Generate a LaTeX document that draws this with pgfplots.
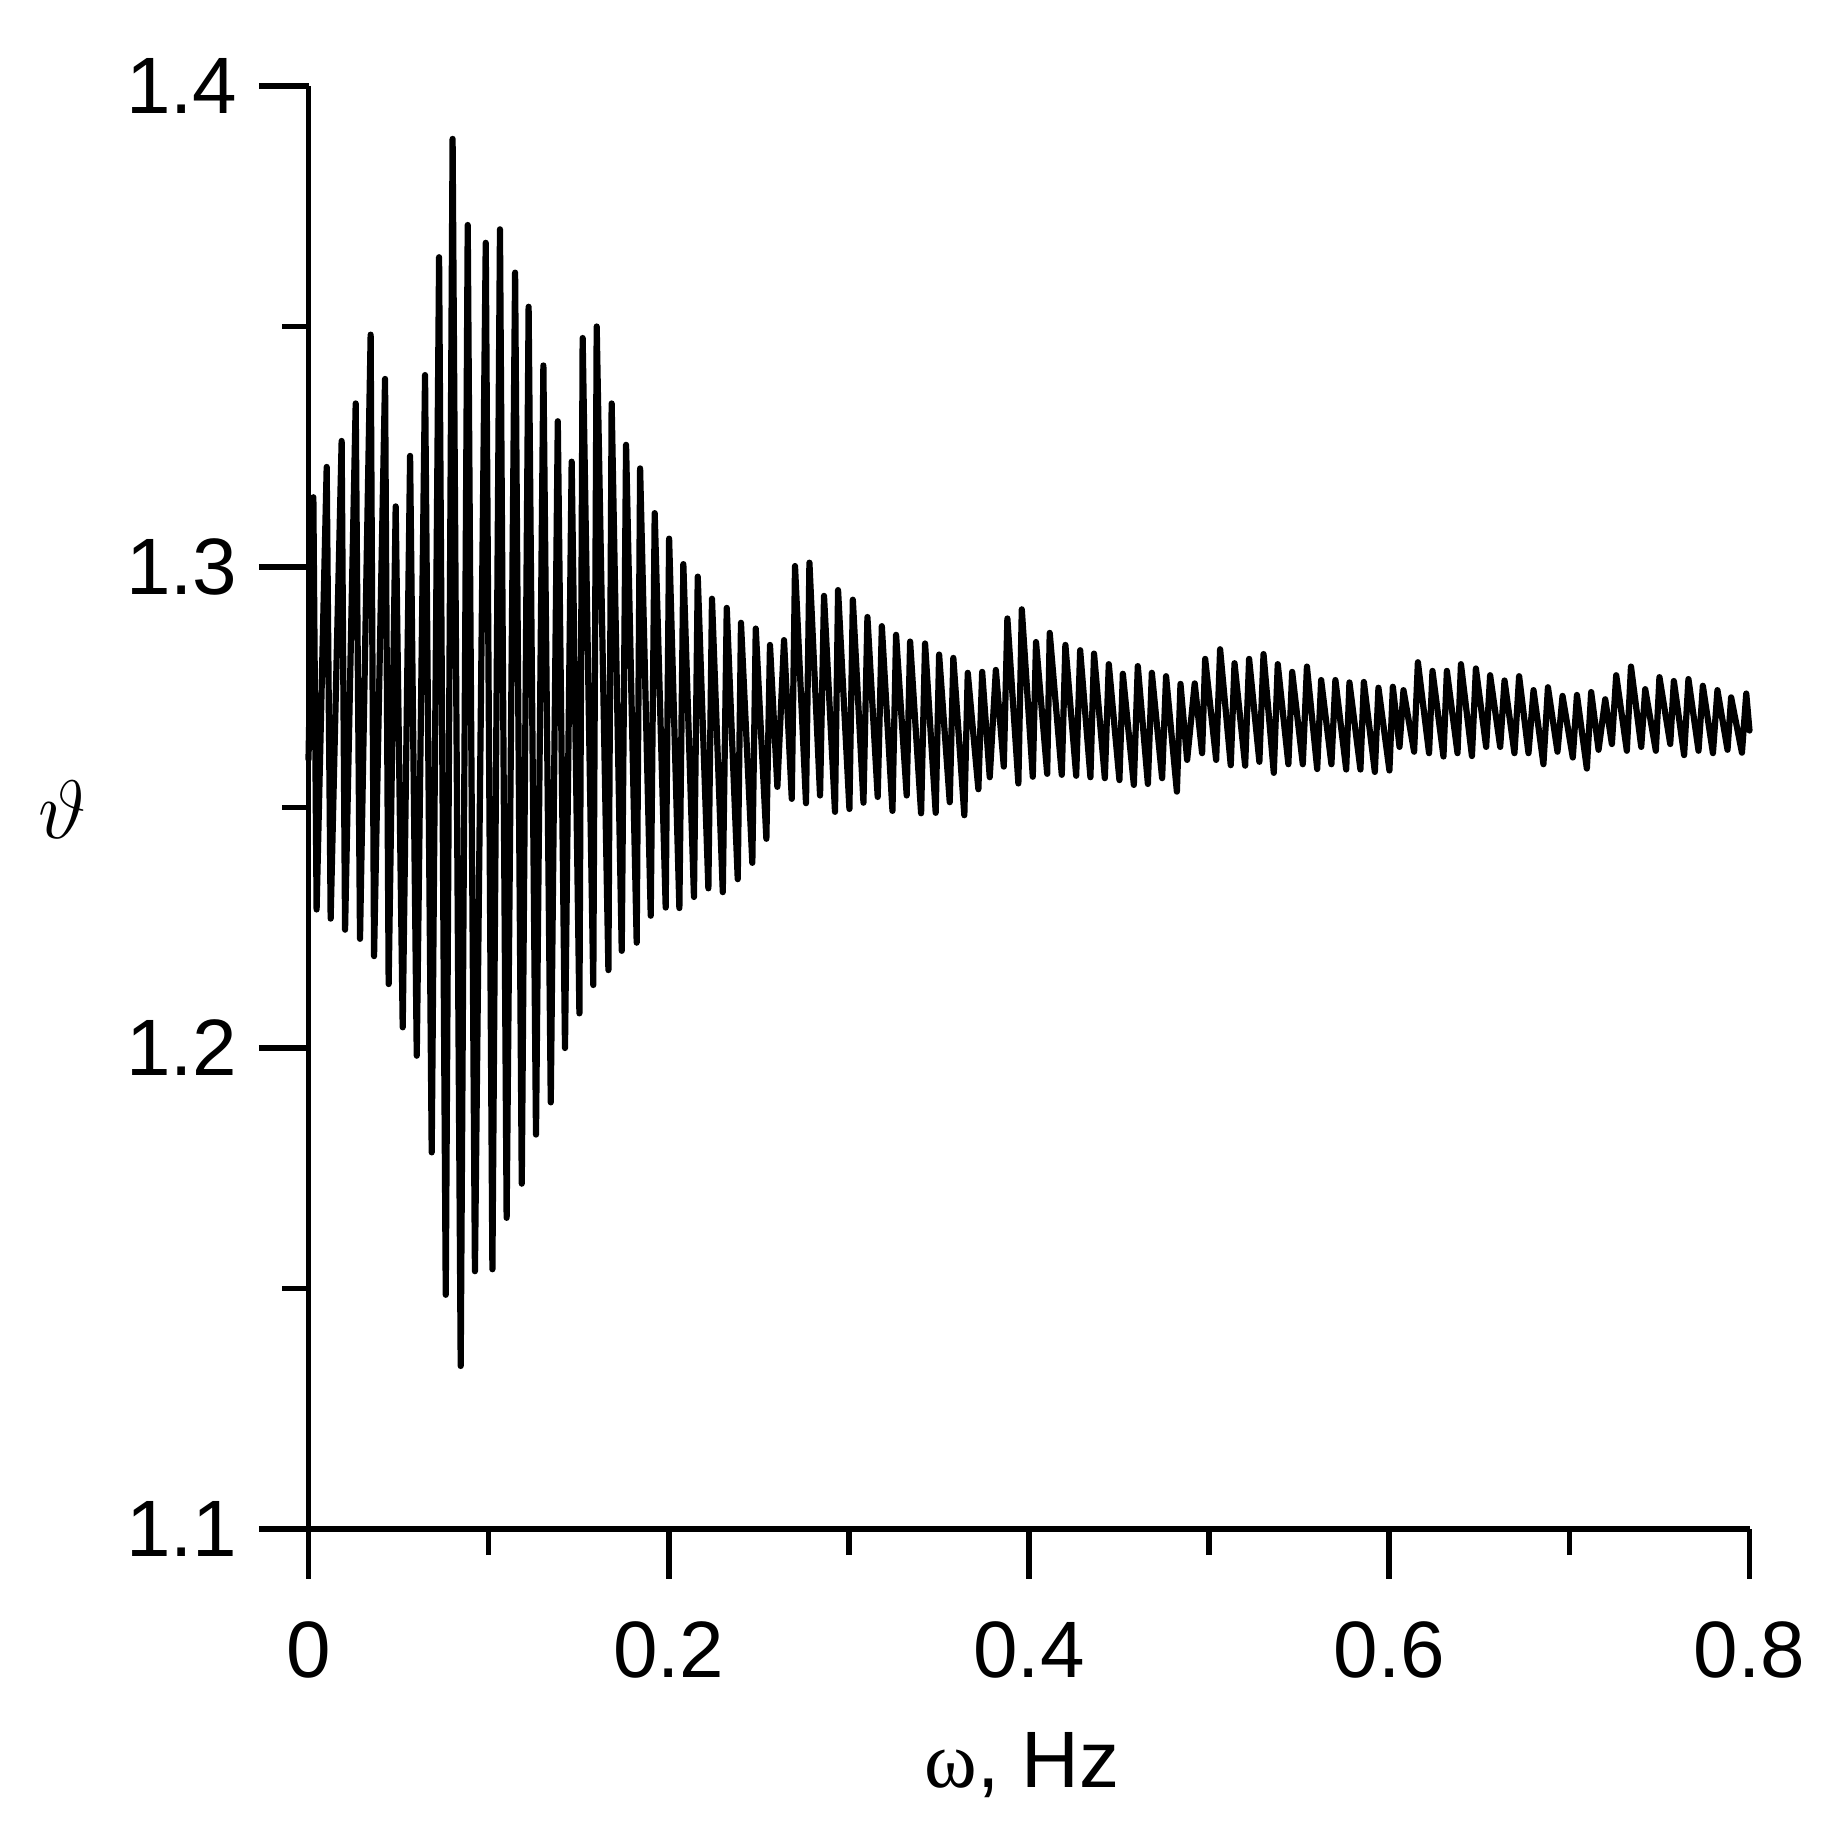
\documentclass[border=0pt]{standalone}
\usepackage{fontspec}
\setmainfont{Liberation Sans}
\newfontfamily\seriffont{Liberation Serif}
\usepackage{pgfplots}
\pgfplotsset{compat=1.18}
\begin{document}
\begin{tikzpicture}
\begin{axis}[
  scale only axis,
  width=360.25pt, height=360.75pt,
  xmin=0, xmax=0.8, ymin=1.1, ymax=1.4,
  axis lines=left,
  axis line style={-, line width=1.4pt, black},
  clip=false,
  tick align=outside,
  major tick length=12.4pt,
  minor tick length=6.5pt,
  every tick/.style={black, line width=1.4pt},
  xtick={0,0.2,0.4,0.6,0.8},
  xticklabels={0,0.2,0.4,0.6,0.8},
  minor xtick={0.1,0.3,0.5,0.7},
  ytick={1.1,1.2,1.3,1.4},
  yticklabels={1.1,1.2,1.3,1.4},
  minor ytick={1.15,1.25,1.35},
  ticklabel style={font=\fontsize{20}{24}\selectfont, inner sep=0pt},
  xticklabel style={anchor=north},
  yticklabel style={anchor=east},
  xticklabel shift=10.5pt,
  yticklabel shift=5.2pt,
  xlabel={{\seriffont ω}, Hz},
  xlabel style={font=\fontsize{20}{24}\selectfont, inner sep=0pt, anchor=base,
    at={([xshift=-1.75pt,yshift=-64.5pt]rel axis cs:0.5,0)}},
  ylabel={$\vartheta$},
  ylabel style={font=\fontsize{20}{24}\selectfont, inner sep=0pt, rotate=-90, anchor=center,
    at={([xshift=-61.4pt,yshift=-0.6pt]rel axis cs:0,0.5)}},
]
\addplot[black, line width=1.55pt, line join=round, line cap=round] coordinates {
(0.0000,1.2600)
(0.0027,1.3145) (0.0045,1.2288)
(0.0101,1.3208) (0.0123,1.2269)
(0.0184,1.3262) (0.0203,1.2246)
(0.0262,1.3340) (0.0286,1.2227)
(0.0345,1.3483) (0.0364,1.2191)
(0.0425,1.3391) (0.0445,1.2133)
(0.0484,1.3126) (0.0523,1.2043)
(0.0564,1.3231) (0.0601,1.1984)
(0.0647,1.3399) (0.0684,1.1783)
(0.0725,1.3644) (0.0762,1.1487)
(0.0800,1.3890) (0.0845,1.1339)
(0.0884,1.3711) (0.0924,1.1536)
(0.0984,1.3674) (0.1021,1.1540)
(0.1063,1.3702) (0.1100,1.1647)
(0.1147,1.3612) (0.1184,1.1718)
(0.1222,1.3541) (0.1263,1.1820)
(0.1304,1.3419) (0.1345,1.1887)
(0.1384,1.3303) (0.1424,1.2000)
(0.1461,1.3219) (0.1504,1.2072)
(0.1522,1.3476) (0.1581,1.2131)
(0.1600,1.3500) (0.1665,1.2162)
(0.1683,1.3340) (0.1739,1.2202)
(0.1763,1.3254) (0.1822,1.2219)
(0.1841,1.3205) (0.1900,1.2275)
(0.1922,1.3112) (0.1983,1.2292)
(0.2002,1.3059) (0.2059,1.2291)
(0.2081,1.3006) (0.2140,1.2314)
(0.2161,1.2980) (0.2220,1.2332)
(0.2240,1.2934) (0.2300,1.2324)
(0.2322,1.2915) (0.2383,1.2351)
(0.2401,1.2884) (0.2464,1.2385)
(0.2483,1.2872) (0.2542,1.2435)
(0.2562,1.2838) (0.2603,1.2543)
(0.2640,1.2848) (0.2683,1.2518)
(0.2701,1.3002) (0.2762,1.2509)
(0.2781,1.3009) (0.2840,1.2525)
(0.2862,1.2940) (0.2923,1.2491)
(0.2940,1.2952) (0.3003,1.2497)
(0.3022,1.2932) (0.3081,1.2510)
(0.3103,1.2896) (0.3160,1.2522)
(0.3183,1.2877) (0.3242,1.2493)
(0.3262,1.2859) (0.3321,1.2525)
(0.3340,1.2845) (0.3401,1.2488)
(0.3423,1.2841) (0.3482,1.2489)
(0.3501,1.2818) (0.3560,1.2511)
(0.3580,1.2811) (0.3641,1.2484)
(0.3660,1.2780) (0.3719,1.2538)
(0.3740,1.2782) (0.3782,1.2563)
(0.3816,1.2786) (0.3860,1.2585)
(0.3880,1.2893) (0.3941,1.2550)
(0.3960,1.2912) (0.4021,1.2564)
(0.4039,1.2844) (0.4101,1.2570)
(0.4115,1.2863)
(0.4182,1.2568) (0.4202,1.2838)
(0.4262,1.2566) (0.4284,1.2827)
(0.4341,1.2563) (0.4361,1.2820)
(0.4421,1.2561) (0.4443,1.2798)
(0.4502,1.2557) (0.4521,1.2778)
(0.4582,1.2547) (0.4604,1.2794)
(0.4660,1.2549) (0.4682,1.2780)
(0.4739,1.2561) (0.4761,1.2773)
(0.4821,1.2533) (0.4841,1.2757)
(0.4878,1.2599) (0.4920,1.2758)
(0.4961,1.2613) (0.4978,1.2809)
(0.5039,1.2599) (0.5061,1.2829)
(0.5120,1.2588) (0.5141,1.2800)
(0.5200,1.2587) (0.5222,1.2809)
(0.5279,1.2595) (0.5302,1.2819)
(0.5359,1.2572) (0.5381,1.2798)
(0.5440,1.2590) (0.5461,1.2782)
(0.5520,1.2590) (0.5543,1.2793)
(0.5600,1.2580) (0.5622,1.2765)
(0.5679,1.2590) (0.5701,1.2765)
(0.5761,1.2579) (0.5779,1.2760)
(0.5840,1.2579) (0.5859,1.2761)
(0.5920,1.2574) (0.5940,1.2749)
(0.6001,1.2577) (0.6020,1.2751)
(0.6057,1.2626) (0.6079,1.2744)
(0.6138,1.2616) (0.6159,1.2802)
(0.6221,1.2613) (0.6240,1.2784)
(0.6301,1.2606) (0.6320,1.2784)
(0.6379,1.2613) (0.6398,1.2798)
(0.6459,1.2607) (0.6481,1.2789)
(0.6538,1.2626) (0.6560,1.2775)
(0.6616,1.2626) (0.6640,1.2764)
(0.6695,1.2613) (0.6721,1.2773)
(0.6773,1.2613) (0.6801,1.2744)
(0.6856,1.2590) (0.6881,1.2750)
(0.6934,1.2616) (0.6962,1.2732)
(0.7019,1.2604) (0.7042,1.2734)
(0.7097,1.2581) (0.7121,1.2740)
(0.7162,1.2620) (0.7199,1.2725)
(0.7236,1.2632) (0.7260,1.2775)
(0.7319,1.2618) (0.7342,1.2793)
(0.7399,1.2626) (0.7421,1.2746)
(0.7480,1.2618) (0.7500,1.2771)
(0.7560,1.2632) (0.7580,1.2763)
(0.7637,1.2609) (0.7661,1.2767)
(0.7717,1.2618) (0.7741,1.2753)
(0.7797,1.2613) (0.7822,1.2744)
(0.7878,1.2620) (0.7898,1.2729)
(0.7958,1.2614) (0.7982,1.2737)
(0.8000,1.2660)
};
\path ([shift={(-77.125pt,-73.25pt)}]rel axis cs:0,0) rectangle ([shift={(24.125pt,21.5pt)}]rel axis cs:1,1);
\end{axis}
\end{tikzpicture}
\end{document}
